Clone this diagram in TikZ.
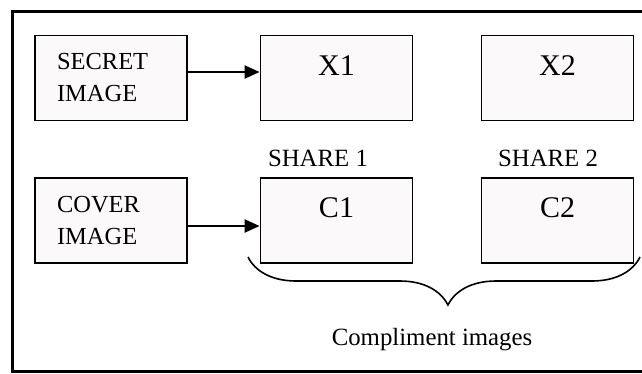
\documentclass[tikz,border=0pt]{standalone}
\usepackage{fontspec}
\setmainfont{Liberation Serif}
\usetikzlibrary{arrows.meta,decorations.pathreplacing}
\definecolor{boxfill}{HTML}{FCF9FB}
\tikzset{
	imgbox/.style={draw, line width=1.8pt, fill=boxfill, minimum width=152pt, minimum height=85pt, inner sep=0pt},
	srcbox/.style={imgbox, text width=108pt, inner xsep=22pt, align=left, font=\fontsize{24.5}{32}\selectfont},
	boxname/.style={anchor=center, yshift=-31pt, font=\fontsize{30}{32}\selectfont},
	lbl/.style={font=\fontsize{24.8}{28}\selectfont},
	feed/.style={line width=2.2pt, -{Triangle[length=15pt,width=13pt]}}
}

\begin{document}
\begin{tikzpicture}[x=1pt,y=-1pt]
			%%%%% START %%%%%
			\useasboundingbox (0,0) rectangle (642,373);
			\draw[line width=3pt] (642,11) -- (12,11) -- (12,371) -- (642,371);
			
			\node[srcbox] (secret) at (111,78) {SECRET\\IMAGE};
			\node[srcbox] (cover) at (111,220.5) {COVER\\IMAGE};
			
			\node[imgbox, label={[boxname]north:X1}] (x1) at (336.5,78) {};
			\node[imgbox, label={[boxname]north:X2}] (x2) at (557.5,78) {};
			\node[imgbox, label={[boxname]north:C1}] (c1) at (336.5,220.5) {};
			\node[imgbox, label={[boxname]north:C2}] (c2) at (557.5,220.5) {};
			
			\node[lbl] (share1) at (318,158) {SHARE 1};
			\node[lbl] (share2) at (548,158) {SHARE 2};
			
			\draw[feed] (secret.east |- 0,72) -- (x1.west |- 0,72);
			\draw[feed] (cover.east |- 0,226) -- (c1.west |- 0,226);
			
			\coordinate (bracel) at (248,257);
			\coordinate (bracer) at (640,257);
			\draw[line width=1.6pt, decorate, decoration={brace, mirror, amplitude=48pt, aspect=0.51}] (bracel) -- (bracer);
			\node[lbl] (compl) at (432,340) {Compliment images};
			%%%%% END %%%%%
		\end{tikzpicture}
\end{document}
